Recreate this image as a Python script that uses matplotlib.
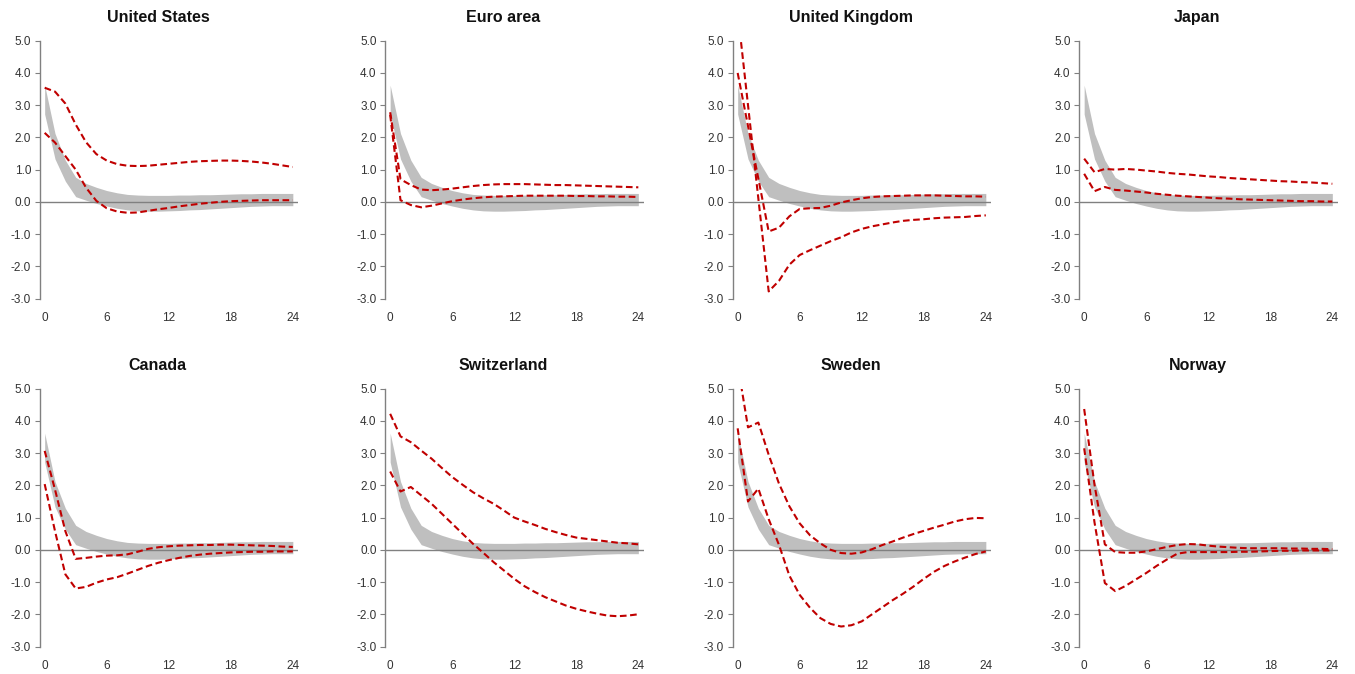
import matplotlib
matplotlib.use("Agg")
import matplotlib.pyplot as plt
from matplotlib.ticker import FormatStrFormatter

plt.rcParams["axes.unicode_minus"] = False

horizon = list(range(25))

# common grey band (same in every panel)
band_upper = [3.62, 2.12, 1.29, 0.76, 0.57, 0.45, 0.35, 0.28, 0.23, 0.21, 0.20, 0.20, 0.20,
              0.21, 0.21, 0.22, 0.22, 0.23, 0.24, 0.25, 0.25, 0.26, 0.26, 0.26, 0.26]
band_lower = [2.72, 1.33, 0.64, 0.16, 0.05, -0.05, -0.13, -0.20, -0.25, -0.28, -0.29, -0.29, -0.28,
              -0.27, -0.25, -0.24, -0.22, -0.20, -0.18, -0.16, -0.14, -0.13, -0.12, -0.12, -0.12]

titles = ["United States", "Euro area", "United Kingdom", "Japan",
          "Canada", "Switzerland", "Sweden", "Norway"]

us_a = [3.54, 3.42, 3.05, 2.40, 1.85, 1.48, 1.28, 1.17, 1.12, 1.11, 1.12, 1.15, 1.18,
        1.21, 1.24, 1.26, 1.27, 1.28, 1.28, 1.27, 1.25, 1.22, 1.18, 1.13, 1.08]
us_b = [2.14, 1.84, 1.42, 1.00, 0.44, 0.03, -0.20, -0.30, -0.34, -0.33, -0.28, -0.23, -0.19,
        -0.14, -0.10, -0.06, -0.03, 0.00, 0.02, 0.03, 0.04, 0.05, 0.05, 0.05, 0.05]

ea_a = [2.78, 0.70, 0.52, 0.38, 0.36, 0.38, 0.41, 0.45, 0.49, 0.52, 0.54, 0.55, 0.55,
        0.55, 0.54, 0.53, 0.52, 0.52, 0.51, 0.50, 0.49, 0.48, 0.47, 0.46, 0.45]
ea_b = [2.70, 0.05, -0.10, -0.17, -0.12, -0.05, 0.02, 0.07, 0.11, 0.14, 0.16, 0.17, 0.18,
        0.19, 0.19, 0.19, 0.19, 0.19, 0.18, 0.18, 0.17, 0.17, 0.16, 0.16, 0.15]

uk_a = [4.00, 2.35, 0.72, -0.92, -0.80, -0.45, -0.22, -0.20, -0.19, -0.12, -0.02, 0.05, 0.11,
        0.15, 0.17, 0.18, 0.19, 0.20, 0.20, 0.20, 0.19, 0.18, 0.17, 0.17, 0.16]
uk_b = [5.90, 3.00, 0.10, -2.78, -2.45, -1.95, -1.65, -1.50, -1.36, -1.22, -1.10, -0.95, -0.84,
        -0.76, -0.70, -0.64, -0.59, -0.56, -0.54, -0.51, -0.49, -0.48, -0.47, -0.44, -0.42]

jp_a = [1.34, 0.92, 1.02, 1.00, 1.02, 1.00, 0.97, 0.94, 0.90, 0.87, 0.85, 0.82, 0.79,
        0.77, 0.74, 0.72, 0.70, 0.68, 0.66, 0.64, 0.63, 0.61, 0.60, 0.58, 0.56]
jp_b = [0.87, 0.33, 0.46, 0.37, 0.35, 0.32, 0.29, 0.25, 0.22, 0.19, 0.17, 0.15, 0.13,
        0.11, 0.10, 0.08, 0.07, 0.06, 0.05, 0.04, 0.03, 0.02, 0.02, 0.01, 0.01]

ca_a = [3.07, 1.87, 0.58, -0.28, -0.25, -0.21, -0.18, -0.17, -0.14, -0.06, 0.03, 0.08, 0.11,
        0.13, 0.14, 0.15, 0.15, 0.16, 0.16, 0.15, 0.14, 0.13, 0.12, 0.10, 0.09]
ca_b = [2.04, 0.58, -0.76, -1.20, -1.15, -1.02, -0.92, -0.85, -0.74, -0.62, -0.50, -0.40, -0.32,
        -0.25, -0.19, -0.15, -0.12, -0.10, -0.08, -0.07, -0.06, -0.06, -0.05, -0.05, -0.05]

ch_a = [4.22, 3.52, 3.34, 3.08, 2.83, 2.54, 2.26, 2.02, 1.79, 1.60, 1.43, 1.22, 1.00,
        0.88, 0.77, 0.65, 0.55, 0.46, 0.38, 0.34, 0.30, 0.26, 0.22, 0.20, 0.17]
ch_b = [2.43, 1.81, 1.95, 1.69, 1.43, 1.12, 0.81, 0.50, 0.19, -0.09, -0.38, -0.64, -0.90,
        -1.13, -1.31, -1.47, -1.60, -1.73, -1.83, -1.91, -1.98, -2.04, -2.06, -2.04, -2.00]

se_a = [5.75, 3.80, 3.95, 2.95, 2.05, 1.35, 0.82, 0.45, 0.20, 0.00, -0.10, -0.12, -0.08,
        0.02, 0.15, 0.26, 0.38, 0.49, 0.59, 0.69, 0.78, 0.88, 0.95, 0.99, 0.98]
se_b = [3.77, 1.50, 1.90, 0.95, 0.15, -0.80, -1.40, -1.80, -2.12, -2.30, -2.38, -2.34, -2.22,
        -2.00, -1.78, -1.56, -1.36, -1.14, -0.90, -0.68, -0.50, -0.36, -0.24, -0.13, -0.05]

no_a = [4.37, 2.02, 0.17, -0.07, -0.09, -0.09, -0.05, 0.02, 0.09, 0.15, 0.18, 0.17, 0.13,
        0.10, 0.08, 0.06, 0.05, 0.05, 0.05, 0.05, 0.04, 0.04, 0.03, 0.03, 0.02]
no_b = [3.15, 0.85, -1.03, -1.28, -1.12, -0.92, -0.72, -0.50, -0.30, -0.12, -0.07, -0.07, -0.07,
        -0.07, -0.07, -0.06, -0.06, -0.05, -0.04, -0.03, -0.03, -0.02, -0.02, -0.02, -0.02]

series = [(us_a, us_b), (ea_a, ea_b), (uk_a, uk_b), (jp_a, jp_b),
          (ca_a, ca_b), (ch_a, ch_b), (se_a, se_b), (no_a, no_b)]

W, H = 1355, 674
col_left = [39.5, 385, 732.5, 1079]
ax_w = 258.5
row_top = [40.7, 388.7]
ax_h = 257.8

red = "#C00000"
grey_band = "#BFBFBF"
axis_grey = "#808080"
text_col = "#333333"
title_font = ["Liberation Sans Narrow", "Liberation Sans", "DejaVu Sans"]
tick_font = ["Liberation Sans", "DejaVu Sans"]

fig = plt.figure(figsize=(W / 100, H / 100), dpi=100)

for i, (title, (line_a, line_b)) in enumerate(zip(titles, series)):
    r, c = divmod(i, 4)
    ax = fig.add_axes([col_left[c] / W, (H - row_top[r] - ax_h) / H, ax_w / W, ax_h / H])

    ax.fill_between(horizon, band_lower, band_upper, color=grey_band, linewidth=0, zorder=1)
    ax.axhline(0, color=axis_grey, linewidth=1.0, zorder=2)
    for line in (line_a, line_b):
        ax.plot(horizon, line, color=red, linewidth=1.5, dashes=(3.2, 1.7), zorder=3)

    ax.set_xlim(-0.5, 24.5)
    ax.set_ylim(-3, 5)
    ax.set_xticks([0, 6, 12, 18, 24])
    ax.set_yticks(range(-3, 6))
    ax.yaxis.set_major_formatter(FormatStrFormatter("%.1f"))

    for side in ("top", "right", "bottom"):
        ax.spines[side].set_visible(False)
    ax.spines["left"].set_color(axis_grey)
    ax.spines["left"].set_linewidth(1.0)

    ax.tick_params(axis="y", direction="out", length=3.5, width=0.8, color=axis_grey,
                   pad=2.5, labelsize=8.5, labelcolor=text_col)
    ax.tick_params(axis="x", length=0, pad=9.5, labelsize=8.5, labelcolor=text_col)
    for lab in ax.get_xticklabels() + ax.get_yticklabels():
        lab.set_fontfamily(tick_font)

    ax.text(0.458, 1.0 + 19 / ax_h, title, transform=ax.transAxes, ha="center",
            va="baseline", fontsize=11.5, fontweight="bold", family=title_font, color="#111111")

fig.savefig("out.png", dpi=100)
